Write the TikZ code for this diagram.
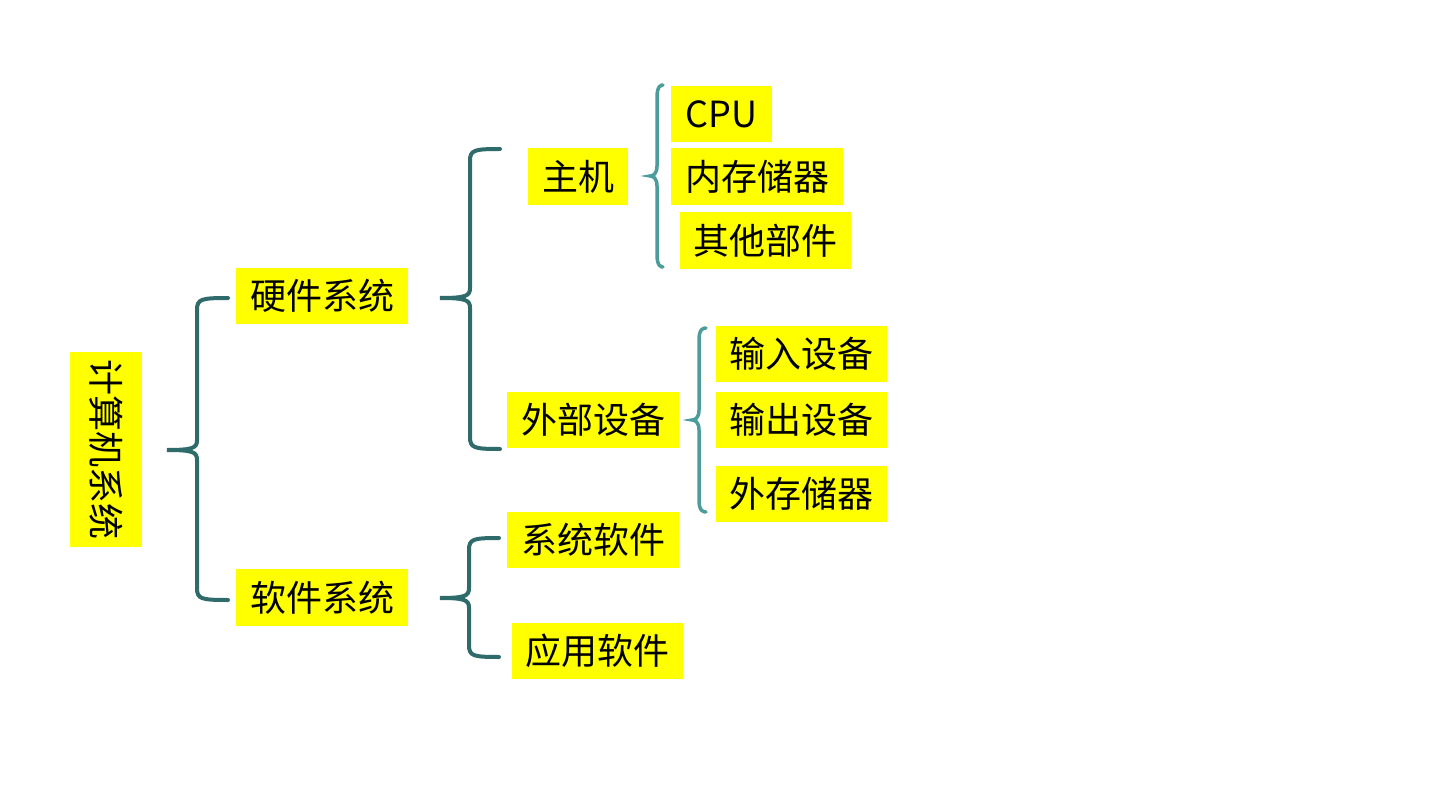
\documentclass[tikz,border=0pt]{standalone}
\usepackage{fontspec}
\setmainfont{Noto Sans CJK SC}
\definecolor{bracedark}{HTML}{306B6B}
\definecolor{bracelight}{HTML}{4C9C9C}
\definecolor{boxyellow}{HTML}{FFFF00}
\tikzset{
  lbl/.style={fill=boxyellow, inner sep=0pt, align=center, font=\fontsize{36}{40}\selectfont},
  bracedk/.style={draw=bracedark, line width=4pt, line cap=round},
  bracelt/.style={draw=bracelight, line width=3.5pt, line cap=round}
}
% #1 tip x, #2 mid y, #3 vertical x, #4 top y, #5 bottom y, #6 end x
\newcommand\mybrace[7]{%
  \draw[#7] (#6,#4) .. controls (#3+4,#4) and (#3,#4+1) .. (#3,#4+12)
    -- (#3,#2-10) .. controls (#3,#2-2) and (#3-4,#2) .. (#1,#2)
    .. controls (#3-4,#2) and (#3,#2+2) .. (#3,#2+10)
    -- (#3,#5-12) .. controls (#3,#5-1) and (#3+4,#5) .. (#6,#5);}
\begin{document}
\begin{tikzpicture}[x=1pt,y=-1pt]
\useasboundingbox (0,0) rectangle (1440,810);
% nodes
\node[lbl, rotate=-90, minimum width=195pt, minimum height=72pt] (root) at (106,449.5) {计算机系统};
\node[lbl, minimum width=172pt, minimum height=56pt] (hw) at (322,296) {硬件系统};
\node[lbl, minimum width=172pt, minimum height=57pt] (sw) at (322,597.5) {软件系统};
\node[lbl, minimum width=100pt, minimum height=57pt] (host) at (578,176.5) {主机};
\node[lbl, minimum width=172pt, minimum height=56pt] (ext) at (593,420) {外部设备};
\node[lbl, minimum width=172pt, minimum height=56pt] (syssw) at (593,540) {系统软件};
\node[lbl, minimum width=171pt, minimum height=56pt] (appsw) at (597.5,651) {应用软件};
\node[lbl, minimum width=101pt, minimum height=56pt] (cpu) at (721.5,114) {CPU};
\node[lbl, minimum width=172pt, minimum height=57pt] (mem) at (757,176.5) {内存储器};
\node[lbl, minimum width=171pt, minimum height=57pt] (other) at (765.5,240.5) {其他部件};
\node[lbl, minimum width=171pt, minimum height=56pt] (inp) at (801.5,354) {输入设备};
\node[lbl, minimum width=171pt, minimum height=56pt] (outp) at (801.5,420) {输出设备};
\node[lbl, minimum width=171pt, minimum height=56pt] (stor) at (801.5,494) {外存储器};
% braces
\mybrace{167}{450}{197}{298}{600}{228}{bracedk}
\mybrace{440}{298}{470}{149}{449}{500}{bracedk}
\mybrace{440}{598}{469}{538}{657}{499}{bracedk}
\mybrace{650}{176}{657}{85}{267}{663}{bracelt}
\mybrace{692}{420}{699}{328}{512}{706}{bracelt}
\end{tikzpicture}
\end{document}
